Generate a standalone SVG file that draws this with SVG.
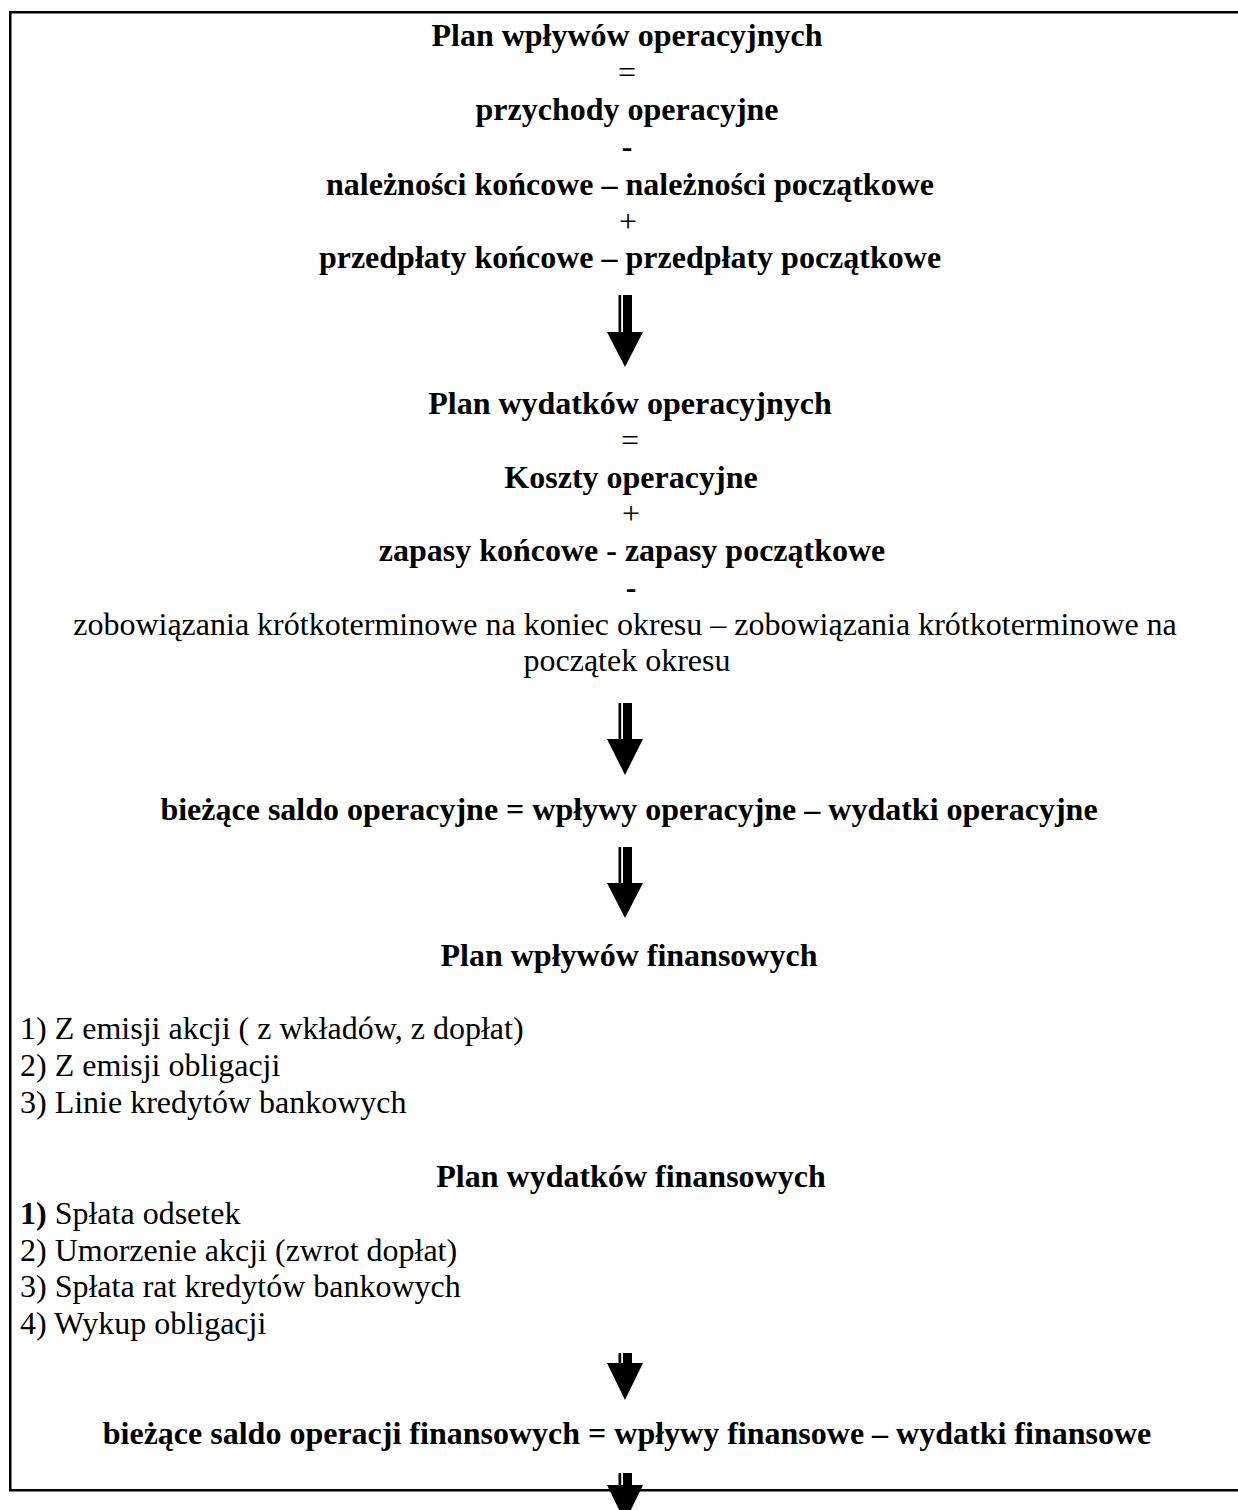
<svg xmlns="http://www.w3.org/2000/svg" width="1238" height="1510" viewBox="0 0 1238 1510">
<style>
text{font-family:"Liberation Serif","Times New Roman",serif;font-size:32px;fill:#000}
.b{font-weight:bold}
.c{text-anchor:middle}
.arr rect,.arr polygon{fill:#000}
</style>
<rect id="frame" x="10.25" y="12.25" width="1229" height="1478" fill="none" stroke="#000" stroke-width="2.5"/>
<g id="plan-wplywow-operacyjnych">
<text class="b c" x="627" y="46">Plan wpływów operacyjnych</text>
<text class="c" x="627" y="83">=</text>
<text class="b c" x="627" y="120">przychody operacyjne</text>
<text class="b c" x="627" y="157">-</text>
<text class="b c" x="630" y="195">należności końcowe – należności początkowe</text>
<text class="c" x="628" y="232">+</text>
<text class="b c" x="630" y="268">przedpłaty końcowe – przedpłaty początkowe</text>
</g>
<g id="plan-wydatkow-operacyjnych">
<text class="b c" x="630" y="414">Plan wydatków operacyjnych</text>
<text class="c" x="630" y="451">=</text>
<text class="b c" x="631" y="488">Koszty operacyjne</text>
<text class="c" x="631" y="524">+</text>
<text class="b c" x="632" y="561">zapasy końcowe - zapasy początkowe</text>
<text class="b c" x="631" y="598">-</text>
<text class="c" x="625" y="635">zobowiązania krótkoterminowe na koniec okresu – zobowiązania krótkoterminowe na</text>
<text class="c" x="627" y="671">początek okresu</text>
</g>
<g id="saldo-operacyjne">
<text class="b c" x="629" y="820">bieżące saldo operacyjne = wpływy operacyjne – wydatki operacyjne</text>
</g>
<g id="plan-wplywow-finansowych">
<text class="b c" x="629" y="966">Plan wpływów finansowych</text>
<text x="20" y="1039">1) Z emisji akcji ( z wkładów, z dopłat)</text>
<text x="20" y="1076">2) Z emisji obligacji</text>
<text x="20" y="1113">3) Linie kredytów bankowych</text>
</g>
<g id="plan-wydatkow-finansowych">
<text class="b c" x="631" y="1187">Plan wydatków finansowych</text>
<text x="20" y="1224"><tspan class="b">1)</tspan> Spłata odsetek</text>
<text x="20" y="1261">2) Umorzenie akcji (zwrot dopłat)</text>
<text x="20" y="1297">3) Spłata rat kredytów bankowych</text>
<text x="20" y="1334">4) Wykup obligacji</text>
</g>
<g id="saldo-finansowe">
<text class="b c" x="627" y="1444">bieżące saldo operacji finansowych = wpływy finansowe – wydatki finansowe</text>
</g>
<g id="connectors" class="arr">
<rect x="618.5" y="295" width="2.7" height="38"/><rect x="623" y="295" width="9" height="38"/><polygon points="607,332 643,332 625,367"/>
<rect x="618.5" y="703" width="2.7" height="37"/><rect x="623" y="703" width="9" height="37"/><polygon points="607,739 643,739 625,775"/>
<rect x="618.5" y="847" width="2.7" height="37"/><rect x="623" y="847" width="9" height="37"/><polygon points="607,883 643,883 625,918"/>
<rect x="618.5" y="1353" width="2.7" height="11"/><rect x="623" y="1353" width="9" height="11"/><polygon points="607,1363 643,1363 625,1400"/>
<rect x="618.5" y="1473" width="2.7" height="13"/><rect x="623" y="1473" width="9" height="13"/><polygon points="607,1485 643,1485 625,1522"/>
</g>
</svg>
